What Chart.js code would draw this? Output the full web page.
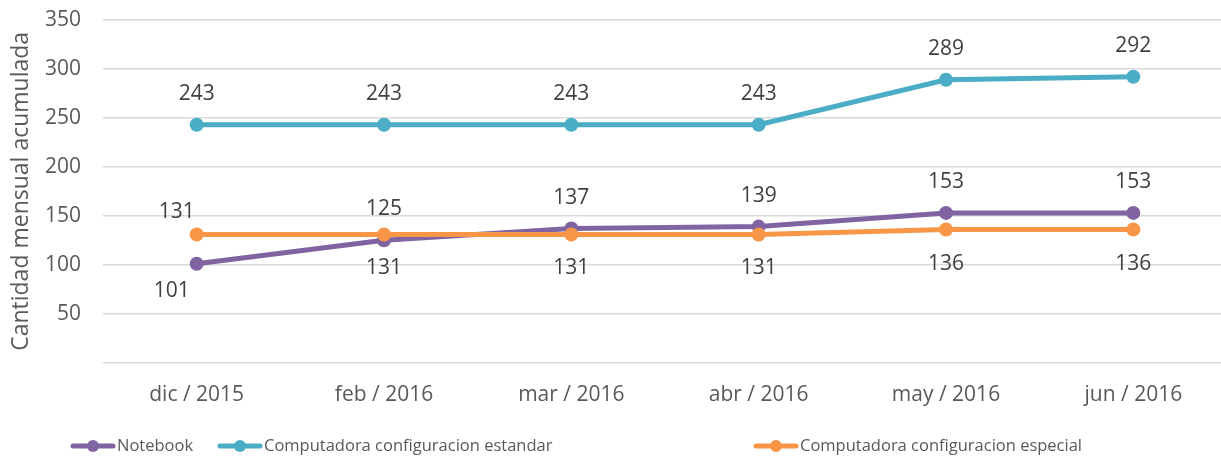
<!DOCTYPE html>
<html>
<head>
<meta charset="utf-8">
<script src="https://cdn.jsdelivr.net/npm/chart.js@4.4.0/dist/chart.umd.min.js"></script>
<style>
  html, body { margin: 0; padding: 0; overflow: hidden; background: #fff; }
</style>
</head>
<body>
<canvas id="chart" width="1234" height="459"></canvas>
<script>
// Data
const months = ['dic / 2015', 'feb / 2016', 'mar / 2016', 'abr / 2016', 'may / 2016', 'jun / 2016'];
const notebook = [101, 125, 137, 139, 153, 153];
const estandar = [243, 243, 243, 243, 289, 292];
const especial = [131, 131, 131, 131, 136, 136];
const yMin = 0, yMax = 350, yStep = 50;

const FONT = '"Open Sans", "Noto Sans", sans-serif';
const TEXT = '#595959';

// label offsets relative to the point centre
const labelOffsets = {
    above: [0, -31],
    below: [0, 34],
    aboveLeft: [-20, -22],
    belowLeft: [-25, 27]
};

const pointLabels = {
    id: 'pointLabels',
    afterDatasetsDraw(chart) {
        const ctx = chart.ctx;
        ctx.save();
        ctx.font = '21px ' + FONT;
        ctx.fillStyle = '#404040';
        ctx.textAlign = 'center';
        ctx.textBaseline = 'middle';
        chart.data.datasets.forEach((ds, i) => {
            const meta = chart.getDatasetMeta(i);
            meta.data.forEach((pt, j) => {
                const off = labelOffsets[ds.labelPos[j]];
                ctx.fillText(ds.data[j], pt.x + off[0], pt.y + off[1]);
            });
        });
        ctx.restore();
    }
};

// Excel-style legend: line with a dot in the middle
const lineLegend = {
    id: 'lineLegend',
    afterDraw(chart) {
        const ctx = chart.ctx;
        const y = 446;
        ctx.save();
        ctx.font = '16.5px ' + FONT;
        ctx.textBaseline = 'middle';
        ctx.textAlign = 'left';
        chart.data.datasets.forEach((ds, i) => {
            const x = ds.legendX;
            ctx.strokeStyle = ds.borderColor;
            ctx.lineWidth = 5;
            ctx.lineCap = 'round';
            ctx.beginPath();
            ctx.moveTo(x, y);
            ctx.lineTo(x + 40, y);
            ctx.stroke();
            ctx.fillStyle = ds.borderColor;
            ctx.beginPath();
            ctx.arc(x + 20, y, 6, 0, Math.PI * 2);
            ctx.fill();
            ctx.fillStyle = TEXT;
            ctx.fillText(ds.label, x + 44, y);
        });
        ctx.restore();
    }
};

function series(label, data, color, order, labelPos, legendX) {
    return {
        label, data, order, labelPos, legendX,
        borderColor: color,
        backgroundColor: color,
        borderWidth: 5,
        pointRadius: 7,
        pointHoverRadius: 7,
        pointBorderWidth: 0,
        tension: 0,
        fill: false
    };
}

new Chart(document.getElementById('chart'), {
    type: 'line',
    data: {
        labels: months,
        datasets: [
            series('Notebook', notebook, '#8064A2', 3,
                ['belowLeft', 'above', 'above', 'above', 'above', 'above'], 73),
            series('Computadora configuracion estandar', estandar, '#4BACC6', 2,
                ['above', 'above', 'above', 'above', 'above', 'above'], 220),
            series('Computadora configuracion especial', especial, '#F79646', 1,
                ['aboveLeft', 'below', 'below', 'below', 'below', 'below'], 756)
        ]
    },
    options: {
        responsive: false,
        animation: false,
        events: [],
        layout: { padding: { top: 20, right: 0, bottom: 0, left: 0 } },
        plugins: {
            legend: { display: false },
            tooltip: { enabled: false }
        },
        scales: {
            x: {
                offset: true,
                grid: { display: false },
                border: { display: false },
                ticks: {
                    color: TEXT,
                    font: { family: FONT, size: 21 },
                    padding: 12,
                    maxRotation: 0,
                    autoSkip: false
                },
                afterFit(scale) {
                    scale.height = 96.3;
                    scale.paddingLeft = 0;
                    scale.paddingRight = 0;
                }
            },
            y: {
                min: yMin,
                max: yMax,
                grid: { color: '#D9D9D9', lineWidth: 1.5, drawTicks: false },
                border: { display: false },
                ticks: {
                    stepSize: yStep,
                    color: TEXT,
                    font: { family: FONT, size: 21 },
                    padding: 22,
                    callback: v => (v === 0 ? '' : v)
                },
                title: {
                    display: true,
                    text: 'Cantidad mensual acumulada',
                    color: TEXT,
                    font: { family: FONT, size: 23, weight: 'normal' },
                    padding: { top: 8, bottom: 0 }
                },
                afterFit(scale) {
                    scale.width = 103;
                    scale.paddingTop = 0;
                    scale.paddingBottom = 0;
                }
            }
        }
    },
    plugins: [pointLabels, lineLegend]
});
</script>
</body>
</html>
